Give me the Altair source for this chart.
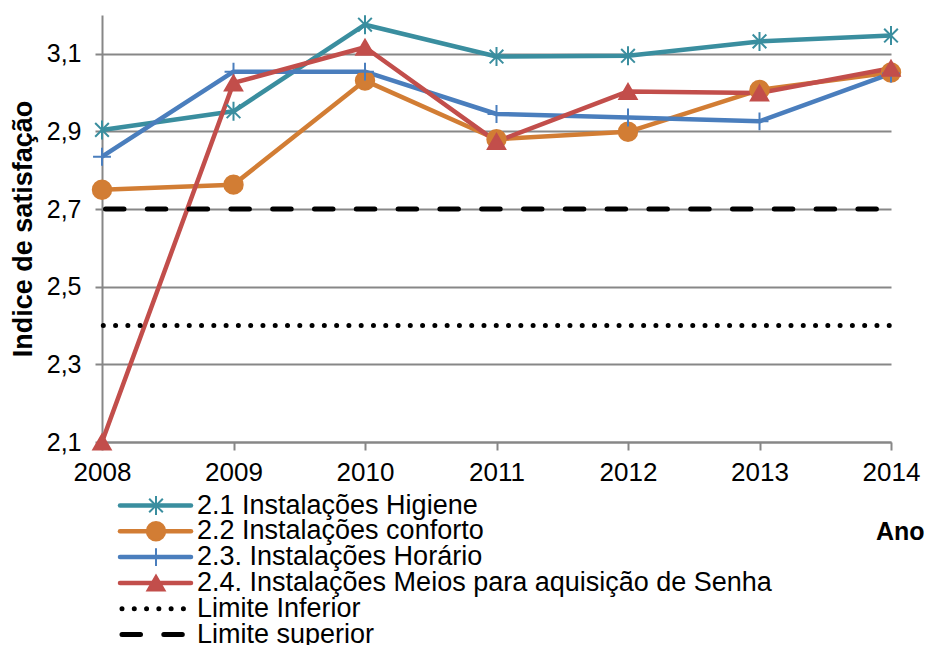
import altair as alt
import pandas as pd

# ---- data -------------------------------------------------------------
years = [2008, 2009, 2010, 2011, 2012, 2013, 2014]
series_names = [
    "2.1 Instalações Higiene",
    "2.2 Instalações conforto",
    "2.3. Instalações Horário",
    "2.4. Instalações Meios para aquisição de Senha",
]
higiene = [2.904, 2.952, 3.175, 3.093, 3.095, 3.132, 3.147]
conforto = [2.750, 2.763, 3.031, 2.880, 2.899, 3.007, 3.052]
horario = [2.835, 3.054, 3.054, 2.945, 2.936, 2.926, 3.049]
meios = [2.100, 3.025, 3.117, 2.874, 3.003, 2.999, 3.063]
limit_names = ["Limite Inferior", "Limite superior"]
limit_values = [2.4, 2.7]
y_ticks = [2.1, 2.3, 2.5, 2.7, 2.9, 3.1]
y_domain = [2.1, 3.2]

# ---- styles -----------------------------------------------------------
FONT = "Liberation Sans"
GRAY = "#878787"
colors = ["#3A8E9F", "#D27D34", "#4A7EBD", "#C24E4B"]
all_names = series_names + limit_names
ASTERISK = "M0,-1L0,1M-0.72,-0.72L0.72,0.72M-0.72,0.72L0.72,-0.72"
PLUS = "M-1,0L1,0M0,-1L0,1"
shapes = [ASTERISK, "circle", PLUS, "triangle-up"]
fills = ["transparent", colors[1], "transparent", colors[3]]
sizes = [360, 300, 290, 320]
dashes = [[0.01, 12.27], [18.5, 23.3]]
dash_offsets = [-1.3, -3.5]

rows = []
for name, vals in zip(series_names, [higiene, conforto, horario, meios]):
    for yr, v in zip(years, vals):
        rows.append({"series": name, "year": yr, "value": v})
df = pd.DataFrame(rows)
df_lim = pd.DataFrame({"series": limit_names, "value": limit_values})
df_leg = pd.DataFrame({"series": all_names})

W, H = 789, 427
PAD_L, PAD_T = 94, 7
TOTAL_W, TOTAL_H = 917, 637

color_scale = alt.Scale(domain=all_names, range=colors + ["black", "black"])
shape_scale = alt.Scale(domain=series_names, range=shapes)
fill_scale = alt.Scale(domain=series_names, range=fills)
size_scale = alt.Scale(domain=series_names, range=sizes)
dash_scale = alt.Scale(domain=limit_names, range=dashes)

x_enc = alt.X(
    "year:Q",
    scale=alt.Scale(domain=[years[0], years[-1]], nice=False, zero=False),
    axis=alt.Axis(
        values=years, format="d", grid=False, title="Ano",
        labelFont=FONT, labelFontSize=26, labelColor="black",
        labelPadding=9, labelFlush=False, labelOverlap=False,
        tickSize=8, tickColor=GRAY, tickWidth=2,
        domainColor=GRAY, domainWidth=2,
        titleFont=FONT, titleFontSize=25, titleFontWeight="bold", titleColor="black",
        titleX=822, titleY=97, titleAlign="right", titleBaseline="alphabetic",
    ),
)
y_enc = alt.Y(
    "value:Q",
    scale=alt.Scale(domain=y_domain, nice=False, zero=False),
    axis=alt.Axis(
        values=y_ticks, grid=True, gridColor=GRAY, gridWidth=2,
        labelExpr="replace(format(datum.value, '.1f'), '.', ',')",
        labelFont=FONT, labelFontSize=25, labelColor="black",
        labelPadding=14, labelFlush=False, labelOverlap=False,
        tickSize=7, tickColor=GRAY, tickWidth=2,
        domainColor=GRAY, domainWidth=2,
        title="Indice de satisfação",
        titleFont=FONT, titleFontSize=27, titleFontWeight="bold", titleColor="black",
        titleX=-79, titleY=H / 2, titleAngle=-90, titleAlign="center", titleBaseline="middle",
    ),
)

lines = alt.Chart(df).mark_line(strokeWidth=4.5, strokeJoin="round").encode(
    x=x_enc, y=y_enc,
    color=alt.Color("series:N", scale=color_scale, legend=None),
)
points = alt.Chart(df).mark_point(strokeWidth=2, opacity=1).encode(
    x=x_enc, y=y_enc,
    shape=alt.Shape("series:N", scale=shape_scale, legend=None),
    fill=alt.Fill("series:N", scale=fill_scale, legend=None),
    stroke=alt.Stroke("series:N", scale=color_scale, legend=None),
    size=alt.Size("series:N", scale=size_scale, legend=None),
)
limit_layers = []
for nm, off in zip(limit_names, dash_offsets):
    limit_layers.append(
        alt.Chart(df_lim)
        .transform_filter(alt.datum.series == nm)
        .mark_rule(strokeWidth=5, strokeCap="round", color="black", strokeDashOffset=off)
        .encode(
            y=y_enc,
            x=alt.datum(years[0]), x2=alt.datum(years[-1]),
            strokeDash=alt.StrokeDash("series:N", scale=dash_scale, legend=None),
        )
    )
main = alt.layer(lines, points, *limit_layers)

# ---- legend (below the plot) -------------------------------------------
leg_y = alt.Y(
    "series:N", sort=all_names,
    scale=alt.Scale(type="point", domain=all_names, range=[490.5, 619.5], padding=0),
    axis=None,
)
base_leg = alt.Chart(df_leg)
leg_lines = base_leg.transform_filter(
    alt.FieldOneOfPredicate(field="series", oneOf=series_names)
).mark_rule(strokeWidth=4.5, strokeCap="round").encode(
    x=alt.value(18), x2=alt.value(89), y=leg_y,
    color=alt.Color("series:N", scale=color_scale, legend=None),
)
leg_limits = base_leg.transform_filter(
    alt.FieldOneOfPredicate(field="series", oneOf=limit_names)
).mark_rule(strokeWidth=5, strokeCap="round", color="black").encode(
    x=alt.value(20), x2=alt.value(85), y=leg_y,
    strokeDash=alt.StrokeDash("series:N", scale=dash_scale, legend=None),
)
leg_points = base_leg.transform_filter(
    alt.FieldOneOfPredicate(field="series", oneOf=series_names)
).mark_point(strokeWidth=2, opacity=1).encode(
    x=alt.value(54), y=leg_y,
    shape=alt.Shape("series:N", scale=shape_scale, legend=None),
    fill=alt.Fill("series:N", scale=fill_scale, legend=None),
    stroke=alt.Stroke("series:N", scale=color_scale, legend=None),
    size=alt.Size("series:N", scale=size_scale, legend=None),
)
leg_text = base_leg.mark_text(
    align="left", baseline="middle", font=FONT, fontSize=27, color="black"
).encode(x=alt.value(95), y=leg_y, text="series:N")
legend = alt.layer(leg_lines, leg_limits, leg_points, leg_text)

chart = (
    alt.layer(main, legend)
    .resolve_scale(y="independent")
    .properties(
        width=W, height=H, background="white",
        autosize=alt.AutoSizeParams(type="none"),
        padding={"left": PAD_L, "top": PAD_T,
                 "right": TOTAL_W - PAD_L - W, "bottom": TOTAL_H - PAD_T - H},
    )
    .configure_view(stroke=None)
)

chart.save("out.html", embed_options={"renderer": "svg", "actions": False})
